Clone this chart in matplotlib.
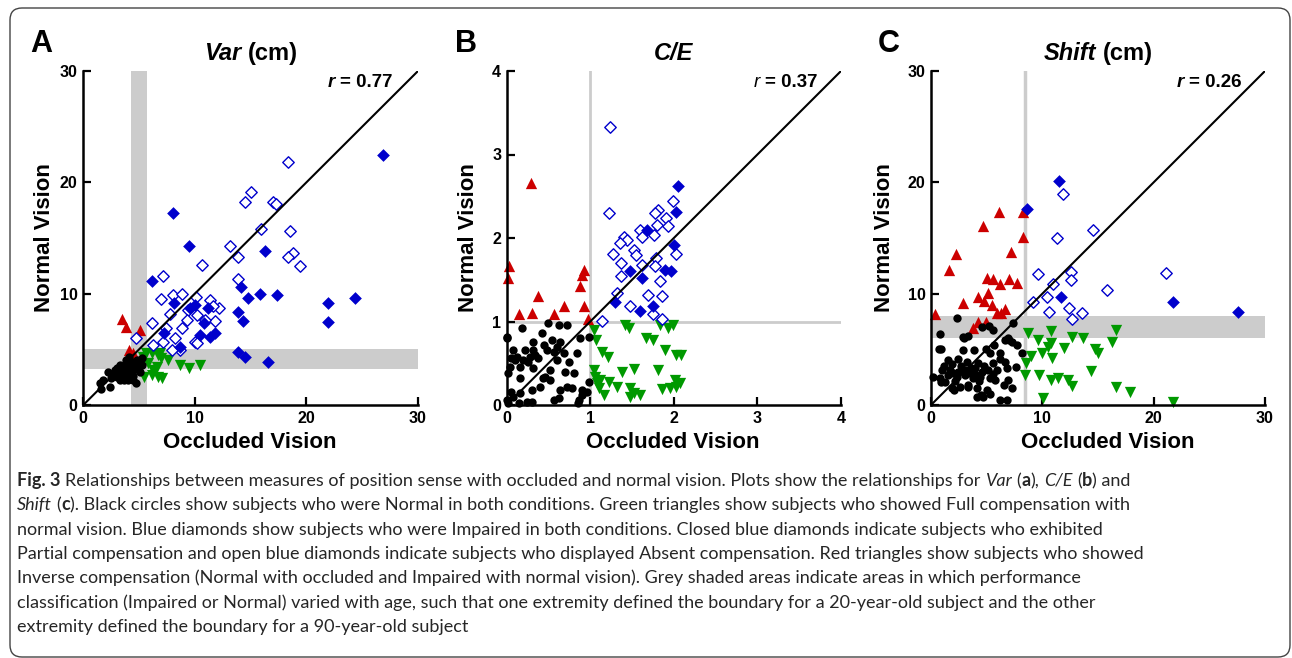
import matplotlib
matplotlib.use('Agg')
import matplotlib.pyplot as plt
from matplotlib.transforms import IdentityTransform
from matplotlib.patches import FancyBboxPatch

# ---------------- data ----------------
# Panel A: Var (cm)
a_normal_x = [1.5, 1.58, 2.39, 2.24, 2.84, 3.29, 3.59, 4.04, 4.34, 3.89, 4.79, 5.23, 4.49, 4.49, 4.94,
              2.99, 3.44, 4.19, 3.74, 5.09, 4.64, 3.29, 2.69, 1.8, 5.23, 4.04, 4.34, 3.14, 3.65, 4.49,
              3.83, 4.1, 2.5, 3.0, 3.9, 4.7]
a_normal_y = [1.95, 1.4, 1.65, 2.93, 3.14, 2.25, 2.84, 3.44, 3.89, 3.74, 4.04, 4.19, 2.25, 3.14, 3.44,
              2.54, 3.29, 2.69, 2.54, 2.99, 3.59, 3.59, 2.69, 2.25, 3.59, 2.25, 2.84, 2.99, 2.25, 2.6,
              4.04, 4.3, 2.4, 3.3, 3.0, 2.0]
a_full_x = [5.38, 6.13, 6.73, 7.63, 8.67, 9.48, 10.47, 6.58, 5.83, 5.47, 6.13, 6.73, 7.03, 6.28, 6.86, 5.66, 7.0]
a_full_y = [4.34, 4.64, 4.49, 4.04, 3.6, 3.3, 3.6, 3.44, 3.74, 2.54, 2.69, 2.54, 2.45, 3.14, 4.64, 4.64, 4.2]
a_inverse_x = [3.43, 3.86, 5.12, 4.1, 4.46, 4.0]
a_inverse_y = [7.73, 7.04, 6.74, 4.94, 4.67, 4.3]
a_partial_x = [26.86, 8.08, 9.45, 16.3, 6.19, 14.12, 14.8, 15.8, 17.35, 24.32, 21.93, 21.93, 13.85,
               14.3, 13.85, 14.5, 16.54, 11.37, 11.8, 10.47, 8.14, 7.27, 8.67, 10.83, 11.22, 9.57, 10.03]
a_partial_y = [22.43, 17.28, 14.28, 13.86, 11.14, 10.63, 9.64, 9.97, 9.91, 9.58, 9.13, 7.49, 8.32,
               7.57, 4.79, 4.31, 3.89, 6.14, 6.44, 6.29, 9.13, 6.44, 5.24, 7.4, 8.68, 8.68, 8.98]
a_absent_x = [18.34, 15.05, 14.45, 17.0, 17.3, 15.94, 18.5, 13.16, 13.85, 18.8, 18.34, 19.44, 10.65,
              13.85, 7.18, 8.0, 8.82, 6.97, 10.11, 11.37, 12.17, 11.67, 7.78, 9.42, 10.17, 11.8, 10.92,
              9.33, 6.13, 7.39, 8.82, 4.7, 6.28, 7.18, 8.23, 10.02, 10.17, 8.67, 7.93]
a_absent_y = [21.8, 19.1, 18.2, 18.2, 18.05, 15.84, 15.66, 14.28, 13.32, 13.65, 13.3, 12.46, 12.57,
              11.3, 11.59, 9.88, 9.94, 9.52, 9.73, 9.43, 8.68, 8.89, 8.14, 8.53, 8.08, 7.54, 7.63,
              7.63, 7.33, 6.89, 6.89, 5.99, 5.39, 5.69, 5.99, 5.69, 5.54, 4.94, 4.94]

# Panel B: C/E
b_normal_x = [0.0, 0.18, 0.42, 0.50, 0.62, 0.72, 0.32, 0.54, 0.64, 0.88, 0.98, 0.08, 0.22, 0.32, 0.48,
              0.56, 0.68, 0.84, 0.10, 0.20, 0.38, 0.60, 0.74, 0.04, 0.16, 0.32, 0.52, 0.70, 0.80, 0.44,
              0.52, 0.98, 0.16, 0.02, 0.78, 0.90, 0.30, 0.16, 0.08, 0.56, 0.86, 0.96, 0.24, 0.0, 0.40,
              0.64, 0.0, 0.05, 0.12, 0.25, 0.28, 0.34, 0.45, 0.60, 0.15, 0.30, 0.62, 0.85, 0.90, 0.05,
              0.46, 0.72, 0.02]
b_normal_y = [0.81, 0.92, 0.86, 0.98, 0.96, 0.96, 0.76, 0.78, 0.76, 0.80, 0.82, 0.66, 0.66, 0.66, 0.66,
              0.64, 0.62, 0.62, 0.54, 0.54, 0.56, 0.54, 0.52, 0.46, 0.46, 0.44, 0.42, 0.40, 0.38, 0.32,
              0.30, 0.28, 0.32, 0.38, 0.20, 0.18, 0.18, 0.14, 0.10, 0.06, 0.06, 0.16, 0.04, 0.06, 0.22,
              0.18, 0.80, 0.56, 0.58, 0.52, 0.58, 0.60, 0.72, 0.70, 0.02, 0.03, 0.08, 0.02, 0.12, 0.16,
              0.34, 0.22, 0.02]
b_full_x = [1.04, 1.42, 1.46, 1.83, 1.93, 1.99, 1.67, 1.75, 1.07, 1.14, 1.21, 1.89, 2.02, 2.09, 1.04,
            1.06, 1.12, 1.38, 1.52, 1.81, 1.08, 1.22, 1.32, 1.11, 1.16, 1.48, 1.47, 1.60, 1.86, 1.95,
            2.01, 2.07, 2.03, 1.52]
b_full_y = [0.90, 0.96, 0.92, 0.96, 0.92, 0.96, 0.80, 0.78, 0.78, 0.64, 0.58, 0.66, 0.60, 0.60, 0.42,
            0.34, 0.30, 0.40, 0.43, 0.42, 0.26, 0.28, 0.22, 0.20, 0.12, 0.20, 0.10, 0.12, 0.19, 0.20,
            0.30, 0.26, 0.22, 0.14]
b_inverse_x = [0.29, 0.03, 0.02, 0.92, 0.90, 0.88, 0.38, 0.69, 0.92, 0.15, 0.30, 0.57, 0.97]
b_inverse_y = [2.66, 1.67, 1.52, 1.62, 1.56, 1.43, 1.31, 1.19, 1.19, 1.09, 1.10, 1.09, 1.03]
b_partial_x = [2.05, 2.03, 1.68, 2.0, 1.90, 1.97, 1.47, 1.62, 1.59, 1.75, 1.30]
b_partial_y = [2.62, 2.31, 2.10, 1.92, 1.62, 1.60, 1.61, 1.52, 1.13, 1.19, 1.23]
b_absent_x = [1.24, 1.22, 1.99, 1.81, 1.77, 1.91, 1.93, 1.80, 1.60, 1.62, 1.76, 1.40, 1.44, 1.36, 1.27,
              1.52, 1.55, 2.03, 1.37, 1.62, 1.79, 1.78, 1.37, 1.83, 1.32, 1.69, 1.86, 1.47, 1.75, 1.14,
              1.86]
b_absent_y = [3.33, 2.30, 2.44, 2.34, 2.30, 2.24, 2.14, 2.16, 2.10, 2.01, 2.03, 2.01, 1.98, 1.94, 1.81,
              1.86, 1.80, 1.81, 1.70, 1.68, 1.76, 1.66, 1.54, 1.48, 1.34, 1.32, 1.31, 1.18, 1.09, 1.01,
              1.03]

# Panel C: Shift (cm)
c_normal_x = [2.31, 0.81, 2.90, 3.35, 5.60, 7.40, 6.65, 7.25, 7.70, 0.72, 2.90, 3.89, 5.30, 6.20, 8.15,
              1.56, 2.46, 3.20, 4.25, 5.60, 6.65, 0.96, 1.71, 2.46, 3.05, 3.95, 4.55, 5.15, 5.90, 6.80,
              0.21, 0.81, 1.56, 2.31, 3.05, 3.80, 4.40, 5.30, 5.75, 6.95, 1.86, 2.61, 3.35, 4.10, 5.00,
              7.25, 4.10, 4.70, 6.20, 6.80, 1.26, 2.10, 2.0, 2.7, 3.5, 4.0, 4.8, 1.2, 3.6, 4.3, 5.6,
              2.2, 6.2, 7.0, 4.6, 5.2, 3.0, 5.7, 4.9, 6.9, 1.9, 3.3, 5.3, 4.5, 0.9, 6.6, 7.6, 0.9]
c_normal_y = [7.79, 6.35, 6.08, 6.20, 6.74, 7.34, 5.84, 5.69, 5.39, 5.00, 4.94, 4.94, 4.64, 4.64, 4.64,
              4.04, 4.10, 3.89, 3.74, 3.74, 3.89, 3.14, 3.14, 2.99, 3.14, 3.29, 2.99, 3.14, 3.14, 3.29,
              2.54, 2.39, 2.69, 2.54, 2.69, 2.39, 2.54, 2.39, 2.24, 2.24, 1.50, 1.65, 1.65, 1.50, 1.35,
              1.50, 0.75, 0.75, 0.45, 0.45, 2.09, 1.35, 2.9, 3.5, 2.9, 2.7, 3.5, 3.5, 3.3, 2.2, 2.8,
              2.2, 4.1, 5.8, 7.0, 7.1, 6.0, 5.4, 5.0, 6.0, 3.7, 1.8, 1.0, 0.9, 2.1, 1.8, 3.4, 5.0]
c_full_x = [8.74, 10.75, 12.63, 13.62, 16.59, 9.64, 10.75, 10.54, 11.98, 14.73, 14.97, 16.29, 9.94, 8.95,
            10.84, 8.53, 14.37, 8.44, 9.73, 10.75, 11.44, 12.34, 12.63, 16.62, 17.87, 10.09, 21.77]
c_full_y = [6.5, 6.65, 6.14, 5.99, 6.74, 5.84, 5.54, 5.24, 5.15, 5.0, 4.7, 5.69, 4.7, 4.4,
            4.19, 3.74, 3.08, 2.69, 2.69, 2.25, 2.46, 2.25, 1.71, 1.65, 1.2, 0.6, 0.3]
c_inverse_x = [6.14, 8.23, 4.64, 8.23, 2.22, 7.19, 1.62, 5.0, 5.6, 6.2, 7.0, 7.69, 5.15, 4.25, 4.79,
               2.9, 5.45, 6.65, 5.9, 0.36, 4.19, 4.94, 3.8, 6.3]
c_inverse_y = [17.37, 17.37, 16.08, 15.12, 13.56, 13.71, 12.13, 11.38, 11.29, 10.84, 11.29, 10.93, 10.09,
               9.73, 9.37, 9.19, 8.98, 8.6, 8.24, 8.2, 7.49, 7.49, 6.89, 8.3]
c_partial_x = [11.47, 8.65, 11.68, 21.7, 27.54]
c_partial_y = [20.12, 17.6, 9.73, 9.22, 8.38]
c_absent_x = [11.89, 11.35, 14.52, 9.64, 10.93, 12.54, 12.54, 21.1, 15.84, 9.13, 10.45, 10.6, 12.4,
              12.63, 13.53]
c_absent_y = [18.92, 15.03, 15.72, 11.77, 10.84, 11.98, 11.23, 11.89, 10.33, 9.28, 9.73, 8.32, 8.68,
              7.69, 8.29]

caption_lines = [
    [('Fig. 3', 'bold', 'normal'),
     (' Relationships between measures of position sense with occluded and normal vision. Plots show the relationships for ', 'normal', 'normal'),
     ('Var', 'normal', 'italic'), (' (', 'normal', 'normal'), ('a', 'bold', 'normal'), ('), ', 'normal', 'normal'),
     ('C/E', 'normal', 'italic'), (' (', 'normal', 'normal'), ('b', 'bold', 'normal'), (') and', 'normal', 'normal')],
    [('Shift', 'normal', 'italic'), (' (', 'normal', 'normal'), ('c', 'bold', 'normal'),
     ('). Black circles show subjects who were Normal in both conditions. Green triangles show subjects who showed Full compensation with', 'normal', 'normal')],
    [('normal vision. Blue diamonds show subjects who were Impaired in both conditions. Closed blue diamonds indicate subjects who exhibited', 'normal', 'normal')],
    [('Partial compensation and open blue diamonds indicate subjects who displayed Absent compensation. Red triangles show subjects who showed', 'normal', 'normal')],
    [('Inverse compensation (Normal with occluded and Impaired with normal vision). Grey shaded areas indicate areas in which performance', 'normal', 'normal')],
    [('classification (Impaired or Normal) varied with age, such that one extremity defined the boundary for a 20-year-old subject and the other', 'normal', 'normal')],
    [('extremity defined the boundary for a 90-year-old subject', 'normal', 'normal')],
]

RED = '#CC0000'
GREEN = '#009900'
BLUE = '#0000CC'
GREY = '#CCCCCC'

W, H = 1292, 658
plt.rcParams['font.family'] = 'Liberation Sans'
fig = plt.figure(figsize=(W / 100, H / 100), dpi=100)
renderer = fig.canvas.get_renderer()


def text_width(s, **kw):
    t = fig.text(0, 0, s, transform=IdentityTransform(), **kw)
    w = t.get_window_extent(renderer).width
    t.remove()
    return w


def rich(x, y_top, segs, size, ha='left', family='Liberation Sans', color='black'):
    # draws a run of differently styled pieces; x, y_top in pixels from the top-left
    y = H - y_top
    cx = x
    arts = []
    for s, wt, st in segs:
        kw = dict(fontsize=size, fontweight=wt, fontstyle=st, family=family, color=color)
        sp = text_width('a a', **kw) - text_width('aa', **kw)
        core = s.strip(' ')
        cx += (len(s) - len(s.lstrip(' '))) * sp
        if core:
            t = fig.text(cx, y, core, transform=IdentityTransform(), ha='left', va='baseline', **kw)
            cx += t.get_window_extent(renderer).width
            arts.append(t)
        cx += (len(s) - len(s.rstrip(' '))) * sp
    total = cx - x
    shift = {'left': 0, 'center': total / 2, 'right': total}[ha]
    for t in arts:
        px, py = t.get_position()
        t.set_position((px - shift, py))
    return total


# axes boxes in pixels: (left, right), bottom 405, top 71
boxes = [(83.3, 418), (506.7, 841), (931, 1265)]
panels = [
    dict(lim=30, ticks=[0, 10, 20, 30], normal=(a_normal_x, a_normal_y), full=(a_full_x, a_full_y),
         inverse=(a_inverse_x, a_inverse_y), partial=(a_partial_x, a_partial_y), absent=(a_absent_x, a_absent_y),
         title=[('Var', 'bold', 'italic'), (' (cm)', 'bold', 'normal')], letter='A', lx=30,
         r=[('r', 'bold', 'italic'), (' = 0.77', 'bold', 'normal')], rpos=(27.75, 28.6),
         xl=250, yl=45),
    dict(lim=4, ticks=[0, 1, 2, 3, 4], normal=(b_normal_x, b_normal_y), full=(b_full_x, b_full_y),
         inverse=(b_inverse_x, b_inverse_y), partial=(b_partial_x, b_partial_y), absent=(b_absent_x, b_absent_y),
         title=[('C/E', 'bold', 'italic')], letter='B', lx=455,
         r=[('r', 'normal', 'italic'), (' = 0.37', 'bold', 'normal')], rpos=(3.72, 3.81),
         xl=673, yl=468),
    dict(lim=30, ticks=[0, 10, 20, 30], normal=(c_normal_x, c_normal_y), full=(c_full_x, c_full_y),
         inverse=(c_inverse_x, c_inverse_y), partial=(c_partial_x, c_partial_y), absent=(c_absent_x, c_absent_y),
         title=[('Shift', 'bold', 'italic'), (' (cm)', 'bold', 'normal')], letter='C', lx=878,
         r=[('r', 'bold', 'italic'), (' = 0.26', 'bold', 'normal')], rpos=(27.9, 28.6),
         xl=1108, yl=884),
]

axes = []
for (x0, x1), p in zip(boxes, panels):
    ax = fig.add_axes([x0 / W, 1 - 405 / H, (x1 - x0) / W, (405 - 71) / H])
    lim = p['lim']
    ax.set_xlim(0, lim)
    ax.set_ylim(0, lim)
    for s in ['top', 'right']:
        ax.spines[s].set_visible(False)
    for s in ['left', 'bottom']:
        ax.spines[s].set_linewidth(1.8)
    ax.set_xticks(p['ticks'])
    ax.set_yticks(p['ticks'])
    ax.tick_params(direction='in', length=6, width=1.6, labelsize=11.5, pad=4)
    for lbl in ax.get_xticklabels() + ax.get_yticklabels():
        lbl.set_fontweight('bold')
    axes.append(ax)

axA, axB, axC = axes

# grey regions where classification depends on age
axA.axvspan(4.3, 5.7, color=GREY, lw=0, zorder=0)
axA.axhspan(3.2, 5.0, color=GREY, lw=0, zorder=0)
axB.axvline(1, color=GREY, lw=2, zorder=0)
axB.axhline(1, color=GREY, lw=2, zorder=0)
axC.axvline(8.4, color=GREY, lw=2.5, zorder=0)
axC.axhspan(6.0, 8.0, color=GREY, lw=0, zorder=0)

for i, (ax, p) in enumerate(zip(axes, panels)):
    lim = p['lim']
    ax.scatter(*p['full'], marker='v', s=66, color=GREEN, lw=0, clip_on=False, zorder=2)
    ax.scatter(*p['inverse'], marker='^', s=66, color=RED, lw=0, clip_on=False, zorder=2)
    ax.scatter(*p['absent'], marker='D', s=34, facecolor='white', edgecolor=BLUE, lw=1.0, clip_on=False, zorder=3)
    ax.scatter(*p['partial'], marker='D', s=42, color=BLUE, lw=0, clip_on=False, zorder=3)
    ax.scatter(*p['normal'], marker='o', s=36, color='black', lw=0, clip_on=False, zorder=4)
    ax.plot([0, lim], [0, lim], color='black', lw=1.5, zorder=5)

    x0, x1 = boxes[i]
    rich((x0 + x1) / 2, 60, p['title'], 17, ha='center')
    rich(p['lx'], 52, [(p['letter'], 'bold', 'normal')], 22)
    rich(p['xl'], 448, [('Occluded Vision', 'bold', 'normal')], 16, ha='center')
    fig.text(p['yl'], H - 238, 'Normal Vision', transform=IdentityTransform(), rotation=90,
             ha='center', va='center', fontsize=16, fontweight='bold')
    rx, ry = ax.transData.transform(p['rpos'])
    rich(rx, H - ry, p['r'], 13.5, ha='right')

# caption, sized so the first line spans the same width as in the figure
cap_font = 'Lato'
probe = rich(-5000, -500, caption_lines[0], 10, family=cap_font)
for t in list(fig.texts):
    if t.get_position()[0] < -1000:
        t.remove()
cap_size = 10 * 1113 / probe
for i, line in enumerate(caption_lines):
    rich(17, 486 + 24.33 * i, line, cap_size, family=cap_font, color='#262626')

# rounded frame round the whole figure
frame = FancyBboxPatch((10, 1), 1280, 649, boxstyle='round,pad=0,rounding_size=12',
                       transform=IdentityTransform(), fill=False, edgecolor='#444444', lw=1.0)
fig.patches.append(frame)

fig.savefig('out.png', dpi=100)
